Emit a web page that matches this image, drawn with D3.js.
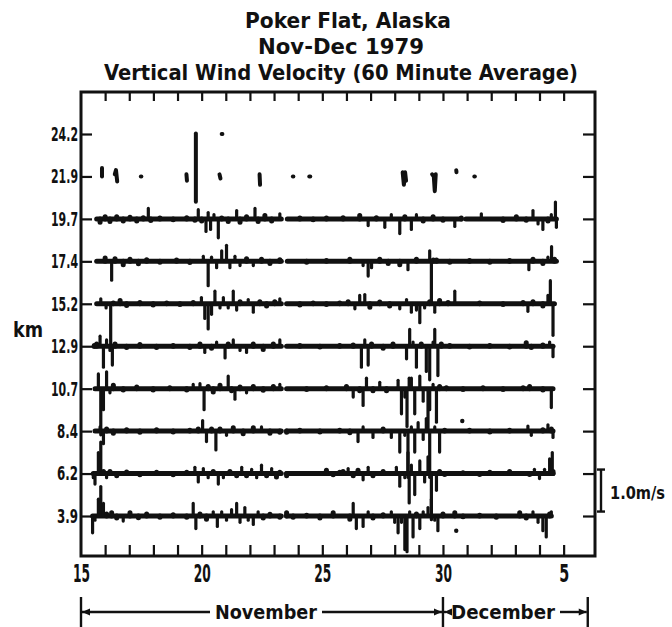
<!DOCTYPE html>
<html>
<head>
<meta charset="utf-8" />
<title>Poker Flat vertical wind</title>
<style>
html, body {
  margin: 0;
  background: #fff;
}
svg text {
  font-family: "DejaVu Sans Condensed", "DejaVu Sans", sans-serif;
  font-stretch: condensed;
  font-weight: bold;
  fill: #111;
}
</style>
</head>
<body>
<script src="https://d3js.org/d3.v7.min.js"></script>
<script>

// ---------------------------------------------------------
// Data (day of Nov 1979, vertical velocity in m/s; null = no data)

const altitudes = ["24.2", "21.9", "19.7", "17.4", "15.2", "12.9", "10.7", "8.4", "6.2", "3.9"]
const dayTicks = [15, 20, 25, 30, 35]
const dayLabels = ["15", "20", "25", "30", "5"]

// 24.2 km and 21.9 km only have a few scattered hours
const w242 = [
  [[20.83, 0], [20.86, 0]]
]
const w219 = [
  [[15.87, 0.2], [15.87, 0]],
  [[16.40, 0.05], [16.45, 0.15], [16.5, -0.12]],
  [[17.48, 0], [17.5, 0]],
  [[19.37, 0.05], [19.39, -0.1]],
  [[19.76, 1.02], [19.76, -0.6]],
  [[20.74, 0.05], [20.78, -0.05]],
  [[22.4, 0.05], [22.42, -0.2]],
  [[23.78, 0], [23.8, 0]],
  [[24.46, 0], [24.5, 0]],
  [[28.33, 0.1], [28.38, -0.2], [28.43, 0.1], [28.47, -0.1]],
  [[29.55, 0.05], [29.62, 0], [29.66, -0.35], [29.7, 0.05]],
  [[30.55, 0.15], [30.56, 0.1]],
  [[31.3, 0], [31.32, 0]]
]

const w197 = [[15.65,0],[15.79,-0.08],[16.0,0.05],[16.2,-0.06],[16.48,0.05],[16.75,-0.05],[17.03,0.04],[17.31,-0.05],[17.58,0.03],[17.79,0.25],[17.89,-0.04],[18.27,0.02],[18.82,-0.02],[19.38,0.03],[19.72,-0.03],[19.86,0.22],[20.0,-0.05],[20.18,-0.3],[20.27,0.15],[20.37,-0.25],[20.51,0.1],[20.69,-0.45],[20.83,0.02],[21.1,-0.06],[21.45,0.2],[21.59,-0.08],[21.86,0.05],[22.21,0.25],[22.34,-0.06],[22.62,0.08],[22.9,-0.05],[23.24,0.12],[23.3,0],[23.4,null],[23.55,0],[24.07,0.02],[24.62,-0.02],[25.17,0.02],[25.72,0],[25.86,0.03],[26.55,0.08],[26.9,-0.16],[27.24,0.03],[27.59,-0.2],[27.86,0.1],[28.21,-0.35],[28.42,0.05],[28.69,-0.25],[28.9,0.1],[29.18,-0.05],[29.59,0.05],[30.0,-0.03],[30.49,-0.18],[30.76,0.02],[30.85,null],[30.95,0],[31.1,0],[31.59,0.12],[31.8,0],[32.49,-0.04],[33.04,0.05],[33.45,-0.03],[33.73,0.2],[33.94,-0.12],[34.14,-0.25],[34.35,-0.05],[34.49,0.1],[34.66,0.4],[34.7,-0.2]]

const w174 = [[15.65,0],[16.0,0.08],[16.27,-0.45],[16.41,0.06],[16.75,-0.08],[17.03,0.05],[17.38,-0.06],[17.72,0.04],[18.27,-0.02],[18.96,0.03],[19.51,-0.03],[20.07,0.12],[20.27,-0.58],[20.41,0.1],[20.62,-0.15],[20.83,0.25],[21.03,0.38],[21.17,-0.15],[21.38,0.12],[21.59,-0.1],[21.86,0.06],[22.14,-0.1],[22.48,0.05],[22.83,-0.05],[23.24,0.04],[23.3,0],[23.4,null],[23.55,0],[24.35,-0.02],[25.17,0.02],[25.72,0],[26.14,0.05],[26.69,-0.1],[26.9,-0.35],[27.04,-0.15],[27.38,0.05],[27.73,-0.05],[28.21,-0.08],[28.55,-0.2],[28.9,0.05],[29.45,0.25],[29.52,-0.98],[29.6,0.03],[29.73,0.03],[30.28,-0.02],[31.1,0.02],[31.94,-0.02],[32.76,0.02],[33.56,-0.2],[33.73,0.05],[34.14,-0.05],[34.35,0.1],[34.5,0.35],[34.62,0.05],[34.7,0]]

const w152 = [[15.65,0],[15.82,0.12],[16.04,-0.1],[16.23,-1.1],[16.34,0.02],[16.62,0.08],[16.89,-0.04],[17.44,0.03],[17.99,-0.03],[18.55,0.02],[19.1,-0.02],[19.65,0.03],[19.99,0.15],[20.13,-0.35],[20.27,-0.6],[20.41,-0.25],[20.55,0.3],[20.76,-0.1],[20.9,0.15],[21.1,-0.1],[21.31,0.3],[21.45,-0.15],[21.59,0.05],[21.93,0.1],[22.14,-0.2],[22.41,0.05],[22.69,-0.05],[23.03,0.05],[23.24,0.12],[23.3,0],[23.4,null],[23.52,0],[24.07,-0.03],[24.62,0.02],[25.17,-0.02],[25.72,0.02],[26.07,0.05],[26.35,-0.12],[26.55,0.2],[26.76,0.22],[26.97,-0.08],[27.38,0.04],[27.79,-0.05],[28.21,-0.12],[28.49,0.1],[28.69,-0.2],[28.9,-0.15],[29.04,-0.45],[29.24,-0.1],[29.45,0.05],[29.66,-0.2],[29.86,0.08],[30.21,0.03],[30.49,0.3],[30.69,0],[31.52,0.02],[32.49,-0.02],[33.32,0.03],[33.52,-0.18],[33.73,0.05],[34.14,-0.05],[34.35,0.2],[34.45,0.55],[34.56,-0.75],[34.62,0]]

const w129 = [[15.55,0.02],[15.65,0.05],[15.79,0.24],[15.93,-0.5],[16.06,0.15],[16.2,-0.1],[16.3,-0.45],[16.41,0.05],[16.89,-0.03],[17.44,0.04],[18.13,-0.03],[18.82,0.02],[19.51,-0.03],[19.93,0.05],[20.13,-0.15],[20.41,-0.05],[20.62,0.1],[20.97,-0.28],[21.1,0.05],[21.31,0.15],[21.59,-0.1],[21.86,-0.15],[22.14,0.05],[22.55,-0.08],[22.97,0.05],[23.24,0.15],[23.3,0],[23.4,null],[23.52,0],[24.07,0.02],[24.9,-0.02],[25.72,0.02],[26.28,0.03],[26.62,-0.5],[26.76,0.15],[26.9,-0.45],[27.04,0.05],[27.52,-0.05],[27.93,0.05],[28.49,-0.3],[28.62,0.4],[28.76,0.1],[28.9,-0.5],[29.1,0.05],[29.31,-0.6],[29.45,-0.8],[29.59,0.1],[29.66,0.4],[29.79,-0.7],[29.93,0.05],[30.28,0.02],[31.1,-0.02],[31.94,0.02],[32.76,-0.02],[33.45,0.08],[33.66,-0.03],[34.14,0.03],[34.42,0.1],[34.56,-0.25]]

const w107 = [[15.58,0],[15.72,0.35],[15.82,-1.1],[15.93,-0.5],[16.06,0.4],[16.2,-0.1],[16.34,0.08],[16.75,-0.03],[17.31,0.04],[17.99,-0.03],[18.68,0.02],[19.38,-0.03],[19.65,0.1],[19.93,0.12],[20.1,-0.5],[20.27,0.05],[20.48,-0.08],[20.76,0.08],[21.1,0.3],[21.24,-0.05],[21.38,-0.25],[21.59,0.04],[21.86,-0.1],[22.14,0.05],[22.55,-0.04],[22.97,0.05],[23.24,0.1],[23.3,0],[23.4,null],[23.52,0],[24.35,-0.02],[25.17,0.02],[25.72,0],[26.0,0.05],[26.28,-0.2],[26.55,-0.05],[26.69,-0.4],[26.83,0.25],[27.1,-0.05],[27.38,0.15],[27.66,-0.05],[28.14,0.2],[28.28,-0.6],[28.42,-0.2],[28.51,-0.9],[28.6,0.25],[28.69,0.25],[28.83,-0.6],[29.04,0.3],[29.18,-0.3],[29.38,-1.0],[29.45,-0.5],[29.59,0.1],[29.73,-0.8],[29.86,0.05],[30.14,0.02],[30.83,-0.02],[31.66,0.02],[32.49,-0.02],[33.32,0.02],[33.59,0.05],[34.14,-0.03],[34.49,-0.45],[34.56,0]]

const w84 = [[15.58,0],[15.79,0.1],[15.93,-0.3],[16.06,0.05],[16.34,-0.05],[16.89,0.03],[17.44,-0.03],[18.13,0.03],[18.82,-0.02],[19.51,0.02],[19.86,0.05],[20.04,0.25],[20.2,-0.25],[20.41,0.05],[20.59,-0.45],[20.76,0.05],[21.03,-0.1],[21.31,0.08],[21.72,-0.06],[22.14,0.08],[22.48,0.1],[22.83,-0.05],[23.24,-0.03],[23.3,0],[23.4,null],[23.52,-0.03],[24.07,0.02],[24.9,-0.02],[25.72,0.02],[26.14,-0.04],[26.48,-0.25],[26.69,0.1],[27.1,-0.15],[27.52,0.05],[27.86,-0.15],[28.21,-0.5],[28.42,-0.1],[28.55,-1.1],[28.69,0.1],[28.83,-0.5],[28.97,0.2],[29.18,-0.2],[29.31,0.3],[29.45,-1.1],[29.66,0.1],[29.86,-0.5],[30.07,0.02],[31.1,0.02],[31.94,-0.02],[32.76,0.02],[33.52,0.12],[33.66,-0.1],[34.14,0.03],[34.35,0.15],[34.49,0.05],[34.56,-0.15]]

const w62 = [[15.51,-0.1],[15.58,-0.25],[15.72,0.5],[15.82,0.75],[15.93,0.05],[16.06,-0.1],[16.2,0.05],[16.48,-0.05],[16.89,0.04],[17.44,-0.03],[18.13,0.03],[18.82,-0.03],[19.38,0.03],[19.72,0.15],[19.86,-0.2],[20.07,0.12],[20.27,-0.1],[20.48,0.05],[20.69,-0.25],[20.9,-0.1],[21.17,0.05],[21.45,-0.05],[21.66,0.15],[21.86,-0.05],[22.07,0.1],[22.28,-0.1],[22.48,0.2],[22.69,-0.05],[22.9,0.12],[23.1,-0.08],[23.24,0.03],[23.3,0],[23.4,null],[23.52,-0.05],[24.35,0],[25.17,0.08],[25.45,-0.03],[25.72,0.03],[25.86,0.05],[26.07,0.12],[26.28,-0.05],[26.48,0.08],[26.69,-0.15],[26.9,0.15],[27.1,-0.05],[27.52,0.05],[28.07,0.15],[28.21,-0.3],[28.42,-0.1],[28.55,0.5],[28.6,-0.7],[28.69,0.2],[28.83,-0.5],[29.04,0.3],[29.24,-0.2],[29.38,0.4],[29.52,-1.1],[29.73,-0.4],[29.86,0.05],[30.07,-0.02],[30.83,0.02],[31.52,-0.02],[31.94,0.03],[32.76,0.05],[33.59,-0.02],[33.79,0.1],[34.0,-0.12],[34.21,0.1],[34.42,0.35],[34.53,0.5],[34.56,0.05]]

const w39 = [[15.48,-0.4],[15.58,-0.1],[15.72,0.4],[15.82,0.7],[15.93,0.3],[16.06,0.05],[16.27,0.08],[16.48,-0.05],[16.75,-0.12],[17.03,0.08],[17.38,-0.04],[17.72,0.05],[18.27,-0.03],[18.82,0.03],[19.38,-0.03],[19.65,0.3],[19.76,-0.3],[19.93,0.05],[20.2,-0.08],[20.48,0.1],[20.65,-0.25],[20.83,0.1],[21.03,-0.1],[21.24,0.15],[21.45,0.3],[21.59,-0.15],[21.79,0.2],[21.93,-0.1],[22.14,-0.2],[22.34,0.1],[22.55,-0.05],[22.83,0.04],[23.24,-0.03],[23.3,0],[23.4,null],[23.52,0.08],[23.79,-0.03],[24.35,0.02],[24.9,-0.05],[25.45,0.08],[25.72,0],[26.14,-0.08],[26.28,0.3],[26.41,-0.3],[26.55,0],[26.69,-0.25],[26.9,0.1],[27.1,-0.05],[27.52,0.03],[27.86,0.1],[28.0,-0.15],[28.14,-0.4],[28.28,-0.15],[28.42,-0.8],[28.51,-0.85],[28.62,0.1],[28.76,-0.5],[28.9,0.05],[29.04,-0.3],[29.18,0.1],[29.38,0.2],[29.52,0.4],[29.66,-0.1],[29.79,-0.35],[30.0,0.05],[30.49,0.08],[30.83,-0.02],[31.52,0.02],[32.21,-0.03],[33.18,0.08],[33.45,-0.05],[33.73,0.1],[33.94,-0.15],[34.14,-0.35],[34.28,-0.5],[34.42,0.05],[34.49,0.1]]

// stray single hours [altitude, day, m/s]
const strays = [["8.4", 30.8, 0.24], ["3.9", 30.55, -0.35]]

// ---------------------------------------------------------
// Layout

const width = 672
const height = 627
const frame = { left: 81, right: 595, top: 92, bottom: 556 }
const pxPerMs = 42   // pixels for 1.0 m/s

const svg = d3.select('body').append('svg')
  .attr('width', width)
  .attr('height', height)

const x = d3.scaleLinear()
  .domain([15, 36.3])
  .range([frame.left, frame.right])

const y = d3.scalePoint()
  .domain(altitudes)
  .range([134, 516])

const v = d3.scaleLinear()
  .domain([0, 1])
  .range([0, -pxPerMs])

// ---------------------------------------------------------
// Title

const titles = ["Poker Flat, Alaska", "Nov-Dec 1979", "Vertical Wind Velocity  (60 Minute Average)"]
const titleY = [28, 54, 80]
const titleW = [206, 166, 474]
const titleX = [348, 341, 341]

svg.selectAll('.title')
  .data(titles)
  .enter().append('text')
  .attr('class', 'title')
  .attr('x', (d, i) => titleX[i])
  .attr('y', (d, i) => titleY[i])
  .attr('text-anchor', 'middle')
  .attr('font-size', 22)
  .attr('textLength', (d, i) => titleW[i])
  .attr('lengthAdjust', 'spacingAndGlyphs')
  .text(d => d)

// ---------------------------------------------------------
// Axes

const yLeft = svg.append('g')
  .attr('transform', `translate(${frame.left},0)`)
  .call(d3.axisLeft(y).tickSize(-11).tickPadding(3))
yLeft.selectAll('text')
  .attr('font-size', 20)
  .attr('textLength', d => d.length > 3 ? 27 : 21)
  .attr('lengthAdjust', 'spacingAndGlyphs')

svg.append('g')
  .attr('transform', `translate(${frame.right},0)`)
  .call(d3.axisRight(y).tickSize(-12).tickFormat(''))

const minorDays = d3.range(16, 36)

svg.append('g')
  .attr('transform', `translate(0,${frame.bottom})`)
  .call(d3.axisBottom(x).tickValues(minorDays).tickSize(-11).tickFormat(''))

svg.append('g')
  .attr('transform', `translate(0,${frame.top})`)
  .call(d3.axisTop(x).tickValues(minorDays).tickSize(-9).tickFormat(''))

const xLabels = svg.append('g')
  .attr('transform', `translate(0,${frame.bottom})`)
  .call(d3.axisBottom(x).tickValues(dayTicks).tickSize(0).tickPadding(9)
    .tickFormat((d, i) => dayLabels[i]))
xLabels.selectAll('text')
  .attr('font-size', 24)
  .attr('textLength', d => d === 35 ? 10 : 17)
  .attr('lengthAdjust', 'spacingAndGlyphs')

svg.selectAll('.domain').remove()
svg.selectAll('.tick line')
  .attr('stroke', '#111')
  .attr('stroke-width', 2.2)

svg.append('rect')
  .attr('x', frame.left)
  .attr('y', frame.top)
  .attr('width', frame.right - frame.left)
  .attr('height', frame.bottom - frame.top)
  .attr('fill', 'none')
  .attr('stroke', '#111')
  .attr('stroke-width', 3)

svg.append('text')
  .attr('x', 28)
  .attr('y', 337)
  .attr('text-anchor', 'middle')
  .attr('font-size', 21)
  .attr('textLength', 30)
  .attr('lengthAdjust', 'spacingAndGlyphs')
  .text('km')

// ---------------------------------------------------------
// Traces: thick baseline per run of hours, plus a stick for each hourly value

const series = [
  { alt: "19.7", pts: w197 },
  { alt: "17.4", pts: w174 },
  { alt: "15.2", pts: w152 },
  { alt: "12.9", pts: w129 },
  { alt: "10.7", pts: w107 },
  { alt: "8.4", pts: w84 },
  { alt: "6.2", pts: w62 },
  { alt: "3.9", pts: w39 }
]

const traces = svg.append('g')
  .attr('stroke', '#111')
  .attr('stroke-linecap', 'round')

series.forEach(s => {
  const y0 = y(s.alt)
  // split into runs at the missing hours
  const runs = []
  let run = []
  s.pts.forEach(p => {
    if (p[1] === null) {
      if (run.length) runs.push(run)
      run = []
    } else {
      run.push(p)
    }
  })
  if (run.length) runs.push(run)

  runs.forEach(r => {
    traces.append('line')
      .attr('x1', x(r[0][0])).attr('x2', x(r[r.length - 1][0]))
      .attr('y1', y0).attr('y2', y0)
      .attr('stroke-width', 5)
  })

  traces.selectAll(null)
    .data(s.pts.filter(p => p[1] !== null && p[1] !== 0))
    .enter().append('line')
    .attr('x1', d => x(d[0])).attr('x2', d => x(d[0]))
    .attr('y1', y0).attr('y2', d => y0 + v(d[1]))
    .attr('stroke-width', d => Math.abs(d[1]) < 0.1 ? 5 : 3.2)
})

// scattered hours at 24.2 and 21.9 km
const scattered = []
w242.forEach(p => scattered.push({ alt: "24.2", pts: p }))
w219.forEach(p => scattered.push({ alt: "21.9", pts: p }))

const line = d3.line()
  .x(d => x(d[0]))

traces.selectAll('.scatter')
  .data(scattered)
  .enter().append('path')
  .attr('class', 'scatter')
  .attr('d', s => line.y(d => y(s.alt) + v(d[1]))(s.pts))
  .attr('fill', 'none')
  .attr('stroke-width', 4)
  .attr('stroke-linejoin', 'round')

svg.selectAll('.stray')
  .data(strays)
  .enter().append('circle')
  .attr('class', 'stray')
  .attr('cx', d => x(d[1]))
  .attr('cy', d => y(d[0]) + v(d[2]))
  .attr('r', 2.2)
  .attr('fill', '#111')

// ---------------------------------------------------------
// 1.0 m/s scale bar

const barX = 601
const barTop = y("6.2") - 4
const bar = svg.append('g')
  .attr('stroke', '#111')
  .attr('stroke-width', 2.4)
bar.append('line')
  .attr('x1', barX).attr('x2', barX)
  .attr('y1', barTop).attr('y2', barTop - v(1))
bar.selectAll('.cap')
  .data([barTop, barTop - v(1)])
  .enter().append('line')
  .attr('x1', barX - 4).attr('x2', barX + 4)
  .attr('y1', d => d).attr('y2', d => d)

svg.append('text')
  .attr('x', 610)
  .attr('y', 499)
  .attr('font-size', 17)
  .attr('textLength', 55)
  .attr('lengthAdjust', 'spacingAndGlyphs')
  .text('1.0m/s')

// ---------------------------------------------------------
// Month brackets

const months = [
  { name: "November", from: 15, to: 30, mid: 266, w: 102 },
  { name: "December", from: 30, to: 36, mid: 503, w: 104 }
]
const rowY = 612
const brk = svg.append('g').attr('stroke', '#111').attr('stroke-width', 2.4)

const edges = [15, 30, 36]
brk.selectAll('.edge')
  .data(edges)
  .enter().append('line')
  .attr('x1', d => x(d)).attr('x2', d => x(d))
  .attr('y1', 597).attr('y2', 627)

months.forEach(m => {
  const x0 = x(m.from) + 1
  const x1 = x(m.to) - 1
  brk.append('line')
    .attr('x1', x0).attr('x2', m.mid - m.w / 2 - 5)
    .attr('y1', rowY).attr('y2', rowY)
  brk.append('line')
    .attr('x1', m.mid + m.w / 2 + 5).attr('x2', x1)
    .attr('y1', rowY).attr('y2', rowY)
  svg.append('path')
    .attr('d', `M${x0},${rowY}l8,-3.5l0,7z`)
    .attr('fill', '#111')
  svg.append('path')
    .attr('d', `M${x1},${rowY}l-8,-3.5l0,7z`)
    .attr('fill', '#111')
  svg.append('text')
    .attr('x', m.mid)
    .attr('y', rowY + 7)
    .attr('text-anchor', 'middle')
    .attr('font-size', 20)
    .attr('textLength', m.w)
    .attr('lengthAdjust', 'spacingAndGlyphs')
    .text(m.name)
})

</script>
</body>
</html>
